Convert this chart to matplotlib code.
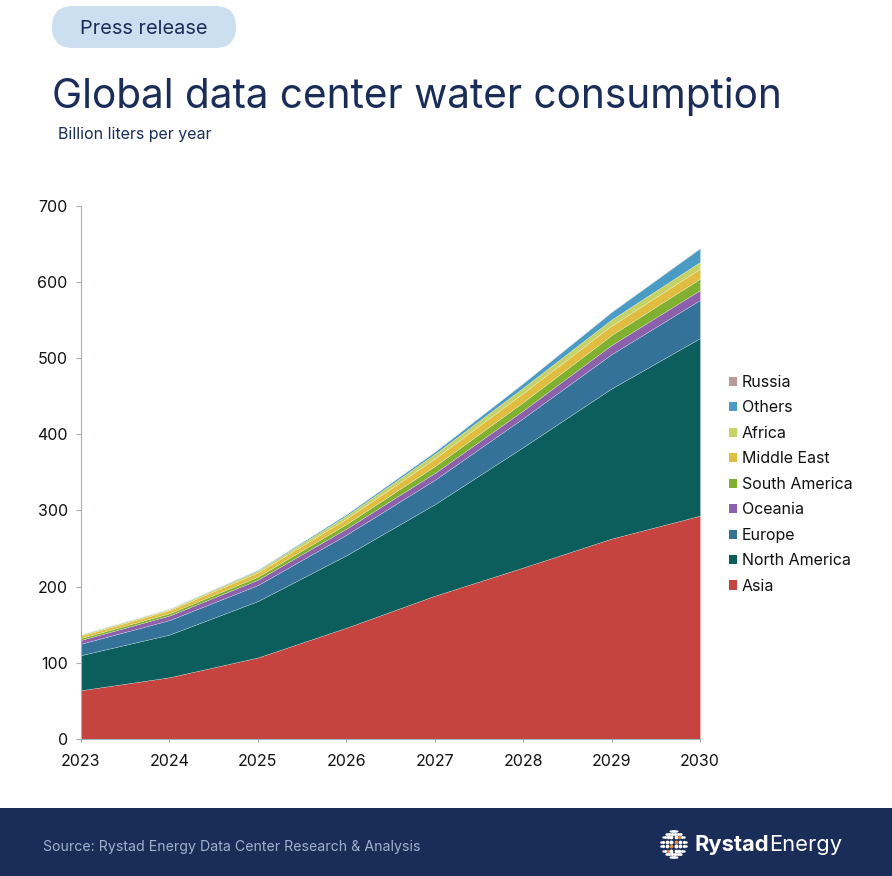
#! /usr/bin/env python

import numpy as np
import matplotlib
matplotlib.use("Agg")
import matplotlib.pyplot as plt
from matplotlib.patches import FancyBboxPatch, Patch, Rectangle

plt.rcParams['font.family'] = ['Inter', 'Liberation Sans', 'DejaVu Sans']

W, H = 892, 876
NAVY = '#1a2c58'

years = [2023, 2024, 2025, 2026, 2027, 2028, 2029, 2030]

asia = [64, 81, 107, 146, 188, 225, 263, 293]
north_america = [46, 56, 74, 95, 120, 158, 197, 233]
europe = [15, 19, 21, 27, 32, 38, 45, 50]
oceania = [5, 6, 7, 8, 9, 10, 12, 13]
south_america = [2.5, 3, 4, 6, 9, 11, 13, 15]
middle_east = [3, 4, 5.5, 7, 10, 12, 12.5, 13]
africa = [1.5, 1.5, 2.5, 4, 6, 7, 8, 9]
others = [0.3, 0.5, 1, 2, 3, 6, 10, 18]
russia = [0.2, 0.2, 0.3, 0.3, 0.4, 0.4, 0.5, 0.5]

series = [asia, north_america, europe, oceania, south_america, middle_east, africa, others, russia]
labels = ['Asia', 'North America', 'Europe', 'Oceania', 'South America',
          'Middle East', 'Africa', 'Others', 'Russia']
colors = ['#c5443f', '#0b5e5c', '#35729a', '#8c60ab', '#7fb02f',
          '#e0bd40', '#c6d263', '#4a9cc4', '#b89a9a']

fig = plt.figure(figsize=(W/100, H/100), dpi=100, facecolor='white')

# chart area, in pixels from the image
left, right, top, bottom = 81, 700, 205.5, 739
ax = fig.add_axes([left/W, 1-bottom/H, (right-left)/W, (bottom-top)/H])
ax.stackplot(years, series, colors=colors, edgecolor='#ffffff', linewidth=0.15)
ax.set_xlim(2023, 2030)
ax.set_ylim(0, 700)
ax.set_xticks(years)
ax.set_yticks(range(0, 701, 100))
ax.tick_params(axis='both', labelsize=11.5, color='#9fb2bb', length=3.6, width=0.8, pad=6, labelcolor='#111111')
ax.tick_params(axis='x', length=2.5, pad=8.5)
for s in ['top', 'right']:
    ax.spines[s].set_visible(False)
for s in ['left', 'bottom']:
    ax.spines[s].set_color('#9fb2bb')
    ax.spines[s].set_linewidth(0.8)

handles = [Patch(facecolor=c, edgecolor='none') for c in colors][::-1]
leg = fig.legend(handles, labels[::-1], loc='upper left', bbox_to_anchor=(729/W, 1-375/H),
                 frameon=False, fontsize=11.5, handlelength=0.5, handleheight=0.5,
                 handletextpad=0.3, labelspacing=0.655, borderpad=0, borderaxespad=0,
                 labelcolor='#111111')

# page furniture in pixel coordinates
bg = fig.add_axes([0, 0, 1, 1], zorder=-1)
bg.set_xlim(0, W)
bg.set_ylim(H, 0)
bg.axis('off')
bg.add_patch(FancyBboxPatch((52, 6), 184, 42, boxstyle='round,pad=0,rounding_size=21',
                            facecolor='#cbdff0', edgecolor='none'))
bg.text(144, 29, 'Press release', ha='center', va='center', fontsize=14.4, color=NAVY)
bg.text(52, 96, 'Global data center water consumption', ha='left', va='center', fontsize=29.2, color=NAVY)
bg.text(58, 135, 'Billion liters per year', ha='left', va='center', fontsize=11.5, color=NAVY)

bg.add_patch(Rectangle((0, 808), W, 68, facecolor=NAVY, edgecolor='none'))
bg.text(43, 846.5, 'Source: Rystad Energy Data Center Research & Analysis', ha='left', va='center',
        fontsize=10.2, color='#9fb0cf')

# logo: dotted globe and wordmark
gx, gy, gr = 673.5, 844, 13
for lat in np.linspace(-75, 75, 8):
    for lon in np.linspace(-75, 75, 8):
        dx = gr*np.cos(np.radians(lat))*np.sin(np.radians(lon))
        dy = gr*np.sin(np.radians(lat))
        on_band = abs(lon + lat) < 15 and abs(lat) < 50
        size = 7*np.cos(np.radians(lat))*np.cos(np.radians(lon)) + 1.5
        bg.scatter(gx+dx, gy+dy, s=size, linewidths=0, color='#d98a4b' if on_band else 'white')
t = bg.text(694, 845, 'Rystad', ha='left', va='center', fontsize=15.8, fontweight='bold', color='white')
fig.canvas.draw()
ext = t.get_window_extent()
bg.text(ext.x1 + 0.5, 845, 'Energy', ha='left', va='center', fontsize=15.8, color='white')

fig.savefig('out.png', dpi=100)
